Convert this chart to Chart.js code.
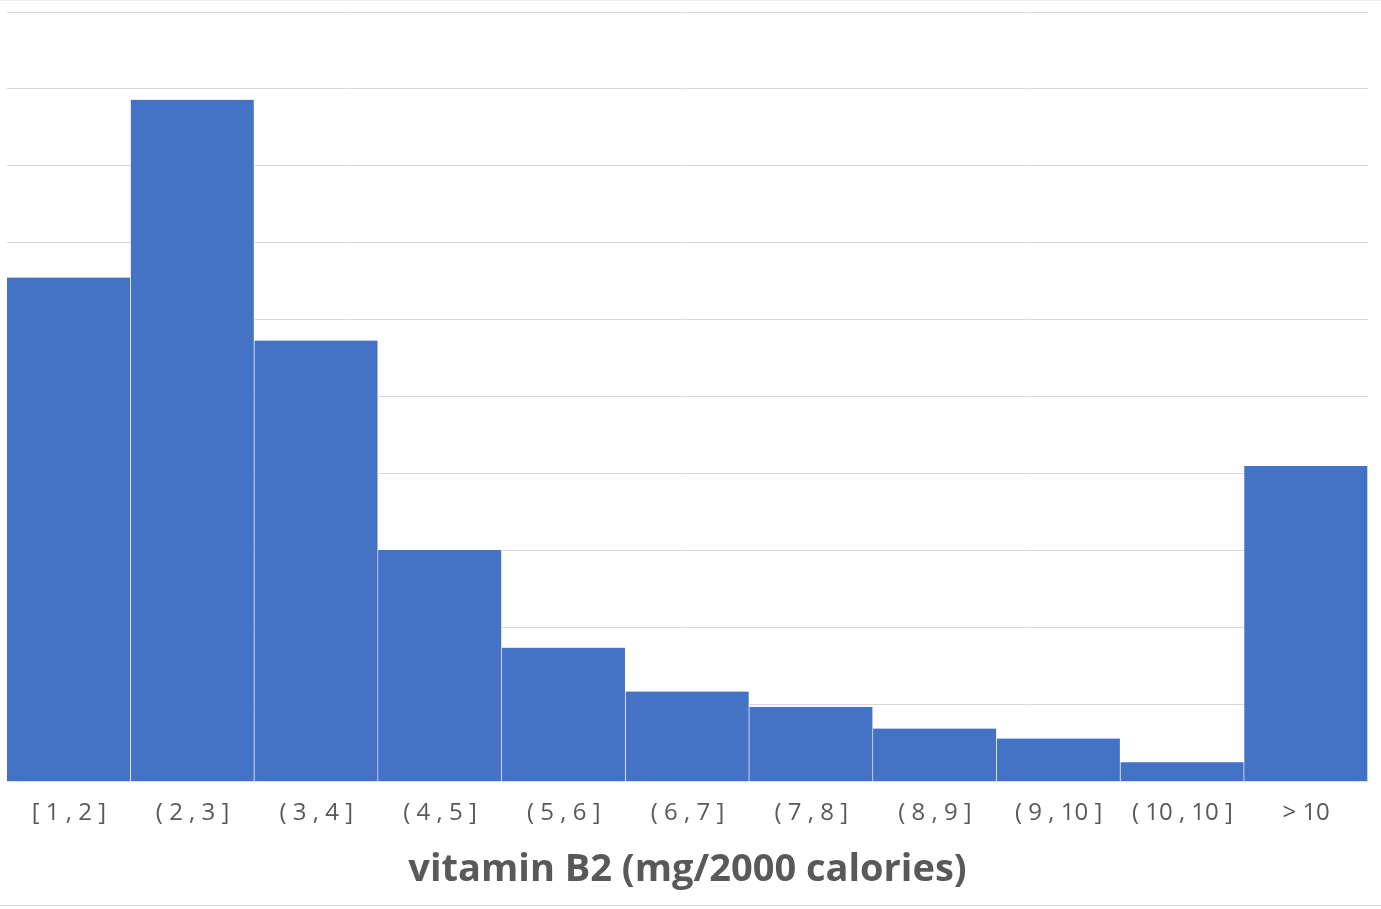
<!DOCTYPE html>
<html>
<head>
<meta charset="utf-8">
<script src="https://cdn.jsdelivr.net/npm/chart.js@4.4.1/dist/chart.umd.min.js"></script>
<style>
  html, body { margin: 0; padding: 0; background: #fff; }
  .frame {
    width: 1381px;
    height: 904px;
    border-top: 1px solid #f0f0f0;
    border-bottom: 1px solid #d9d9d9;
    position: relative;
  }
</style>
</head>
<body>
<div class="frame">
  <canvas id="histogram"></canvas>
</div>
<script>
// bins and counts
const binLabels = ["[ 1 , 2 ]", "( 2 , 3 ]", "( 3 , 4 ]", "( 4 , 5 ]", "( 5 , 6 ]", "( 6 , 7 ]",
  "( 7 , 8 ]", "( 8 , 9 ]", "( 9 , 10 ]", "( 10 , 10 ]", "> 10"];
const binCounts = [65.5, 88.6, 57.3, 30.1, 17.4, 11.7, 9.7, 6.9, 5.6, 2.5, 41.0];
const axisTitle = "vitamin B2 (mg/2000 calories)";

const ctx = document.getElementById("histogram").getContext("2d");
const chart = new Chart(ctx, {
  type: "bar",
  data: {
    labels: binLabels,
    datasets: [
      {
        data: binCounts,
        backgroundColor: "#4472C4",
        borderColor: "#ffffff",
        borderWidth: { left: 0, right: 1, top: 0, bottom: 0 },
        borderSkipped: false,
        categoryPercentage: 1.0,
        barPercentage: 1.0,
      },
    ],
  },
  options: {
    responsive: true,
    maintainAspectRatio: false,
    animation: false,
    layout: {
      padding: { left: 7, right: 13, top: 11, bottom: 12 },
    },
    plugins: {
      legend: { display: false },
      tooltip: { enabled: false },
    },
    scales: {
      x: {
        grid: { display: false },
        border: { color: "#d9d9d9", width: 1 },
        ticks: {
          color: "#595959",
          font: { family: "Open Sans", size: 24 },
          padding: 9,
          maxRotation: 0,
          autoSkip: false,
        },
        title: {
          display: true,
          text: axisTitle,
          color: "#595959",
          font: { family: "Open Sans", size: 38, weight: "bold" },
          padding: { top: 11, bottom: 0 },
        },
      },
      y: {
        min: 0,
        max: 100,
        ticks: { display: false, stepSize: 10 },
        border: { display: false },
        grid: { color: "#d9d9d9", lineWidth: 1, drawTicks: false },
      },
    },
  },
});
</script>
</body>
</html>
